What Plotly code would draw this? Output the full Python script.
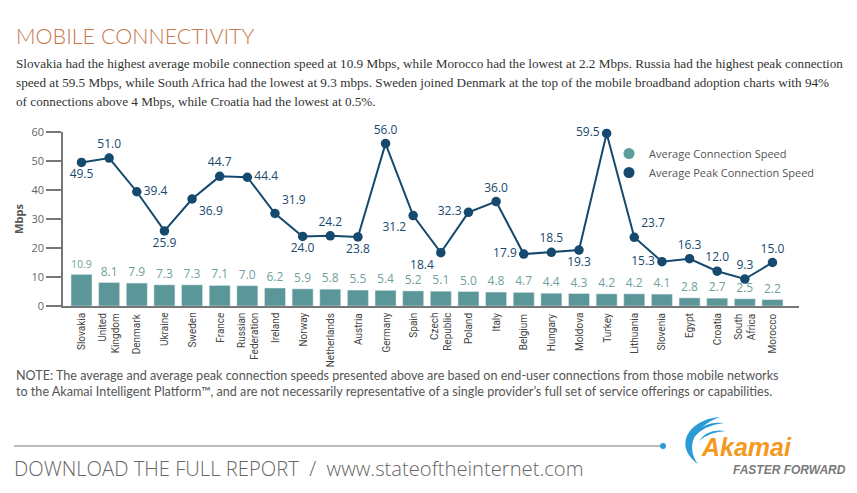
import plotly.graph_objects as go

countries = ["Slovakia", "United<br>Kingdom", "Denmark", "Ukraine", "Sweden", "France",
             "Russian<br>Federation", "Ireland", "Norway", "Netherlands", "Austria", "Germany",
             "Spain", "Czech<br>Republic", "Poland", "Italy", "Belgium", "Hungary", "Moldova",
             "Turkey", "Lithuania", "Slovenia", "Egypt", "Croatia", "South<br>Africa", "Morocco"]
avg_speed = [10.9, 8.1, 7.9, 7.3, 7.3, 7.1, 7.0, 6.2, 5.9, 5.8, 5.5, 5.4, 5.2, 5.1, 5.0,
             4.8, 4.7, 4.4, 4.3, 4.2, 4.2, 4.1, 2.8, 2.7, 2.5, 2.2]
peak_speed = [49.5, 51.0, 39.4, 25.9, 36.9, 44.7, 44.4, 31.9, 24.0, 24.2, 23.8, 56.0, 31.2,
              18.4, 32.3, 36.0, 17.9, 18.5, 19.3, 59.5, 23.7, 15.3, 16.3, 12.0, 9.3, 15.0]
peak_label_pos = ["bottom center", "top center", "middle right", "bottom center", "bottom right",
                  "top center", "middle right", "top right", "bottom center", "top center",
                  "bottom center", "top center", "bottom left", "bottom left", "middle left",
                  "top center", "middle left", "top center", "bottom center", "middle left",
                  "top right", "middle left", "top center", "top center", "top center", "top center"]
y_ticks = [0, 10, 20, 30, 40, 50, 60]

W, H = 857, 493
L, R, T, B = 63, 58, 132, 187
PW, PH = W - L - R, H - T - B

def px(x):
    return (x - L) / PW

def py(y):
    return 1 - (y - T) / PH

BAR_C = "#5b9698"
PEAK_C = "#16496e"

fig = go.Figure()
fig.add_trace(go.Bar(
    x=countries, y=avg_speed, marker_color=BAR_C, showlegend=False,
    text=[f"{v:.1f}" for v in avg_speed], textposition="outside", cliponaxis=False,
    textfont=dict(family="Open Sans, sans-serif", size=12, color="#6f9fa0"),
))
fig.add_trace(go.Scatter(
    x=countries, y=peak_speed, mode="lines+markers+text", showlegend=False,
    line=dict(color=PEAK_C, width=2), marker=dict(color=PEAK_C, size=9.5),
    text=[f"{v:.1f}" for v in peak_speed], textposition=peak_label_pos, cliponaxis=False,
    textfont=dict(family="Open Sans, sans-serif", size=12, color=PEAK_C),
))
# legend entries (circle symbols)
fig.add_trace(go.Scatter(x=[None], y=[None], mode="markers", name="Average Connection Speed",
                         marker=dict(color="#5f9c9c", size=11)))
fig.add_trace(go.Scatter(x=[None], y=[None], mode="markers", name="Average Peak Connection Speed",
                         marker=dict(color=PEAK_C, size=11)))

fig.update_layout(
    width=W, height=H, margin=dict(l=L, r=R, t=T, b=B),
    paper_bgcolor="white", plot_bgcolor="white",
    bargap=0.24,
    font=dict(family="Open Sans, sans-serif", color="#555"),
    legend=dict(x=px(609), y=py(139), xanchor="left", yanchor="top",
                font=dict(size=11, color="#555"), bgcolor="rgba(0,0,0,0)",
                itemwidth=30),
)
fig.update_xaxes(type="category", range=[-0.67, 25.96], showline=True, linecolor="#777",
                 linewidth=1.5, ticks="", showticklabels=False, automargin=False)
fig.update_yaxes(range=[0, 60], tickvals=y_ticks, showline=True, linecolor="#777", linewidth=1.5,
                 ticks="outside", ticklen=15, tickcolor="#777", tickwidth=1.5, showgrid=False,
                 zeroline=False, automargin=False,
                 tickfont=dict(size=11, color="#666"),
                 title=dict(text="<b>Mbps</b>", font=dict(size=11, color="#555"), standoff=6))

ann = []
# category labels, rotated, right-aligned against the axis
for c in countries:
    ann.append(dict(text=c, x=c, xref="x", y=py(311), yref="paper", xanchor="center",
                    yanchor="top", textangle=-90, align="right", showarrow=False,
                    font=dict(family="Liberation Sans Narrow, Roboto, sans-serif", size=10,
                              color="#444")))
ann.append(dict(text="MOBILE CONNECTIVITY", x=px(14), y=py(36), xanchor="left", yanchor="middle",
                font=dict(family="Lato, sans-serif", size=21.5, color="#c8784c", weight=300)))
body = ["Slovakia had the highest average mobile connection speed at 10.9 Mbps, while Morocco had the lowest at 2.2 Mbps. Russia had the highest peak connection",
        "speed at 59.5 Mbps, while South Africa had the lowest at 9.3 mbps. Sweden joined Denmark at the top of the mobile broadband adoption charts with 94%",
        "of connections above 4 Mbps, while Croatia had the lowest at 0.5%."]
for i, line in enumerate(body):
    ann.append(dict(text=line, x=px(14), y=py(63 + i * 19.5), xanchor="left", yanchor="middle",
                    font=dict(family="Liberation Serif, serif", size=13.2, color="#333")))
note = ["NOTE: The average and average peak connection speeds presented above are based on end-user connections from those mobile networks",
        "to the Akamai Intelligent Platform™, and are not necessarily representative of a single provider’s full set of service offerings or capabilities."]
for i, line in enumerate(note):
    ann.append(dict(text=line, x=px(14), y=py(375 + i * 16.5), xanchor="left", yanchor="middle",
                    font=dict(family="Lato, sans-serif", size=12.6, color="#555")))
ann.append(dict(text="DOWNLOAD THE FULL REPORT  /  www.stateoftheinternet.com", x=px(12), y=py(468),
                xanchor="left", yanchor="middle",
                font=dict(family="Open Sans, sans-serif", size=20.2, color="#666", weight=300)))
ann.append(dict(text="<b><i>Akamai</i></b>", x=px(699), y=py(447), xanchor="left", yanchor="middle",
                font=dict(family="Liberation Sans, sans-serif", size=25, color="#f39a1e")))
ann.append(dict(text="<b><i>FASTER FORWARD</i></b>", x=px(731), y=py(470), xanchor="left", yanchor="middle",
                font=dict(family="Liberation Sans, sans-serif", size=12, color="#7a7a7a")))
for a in ann:
    a.setdefault("xref", "paper")
    a.setdefault("yref", "paper")
    a["showarrow"] = False
fig.update_layout(annotations=ann)

def path(pts_cmds):
    out = []
    for c in pts_cmds:
        if isinstance(c, str):
            out.append(c)
        else:
            out.append(f"{px(c[0]):.5f},{py(c[1]):.5f}")
    return " ".join(out)

shapes = [
    dict(type="line", x0=px(14), x1=px(662), y0=py(446), y1=py(446), line=dict(color="#777", width=1.2)),
    dict(type="circle", x0=px(660), x1=px(666), y0=py(443), y1=py(449),
         fillcolor="#2a9bd6", line=dict(width=0)),
    dict(type="path", path=path(["M", (720, 417), "C", (690, 419), (672, 445), (698, 464),
                                 "C", (686, 448), (692, 427), (720, 417), "Z"]),
         fillcolor="#2a9bd6", line=dict(width=0)),
    dict(type="path", path=path(["M", (693, 438), "Q", (700, 421), (724, 423),
                                 "Q", (704, 425), (693, 438), "Z"]),
         fillcolor="#2a9bd6", line=dict(width=0)),
    dict(type="path", path=path(["M", (699, 441), "Q", (707, 428), (726, 431),
                                 "Q", (709, 432), (699, 441), "Z"]),
         fillcolor="#2a9bd6", line=dict(width=0)),
]
for s in shapes:
    s.update(xref="paper", yref="paper")
fig.update_layout(shapes=shapes)

fig.write_html("out.html")
